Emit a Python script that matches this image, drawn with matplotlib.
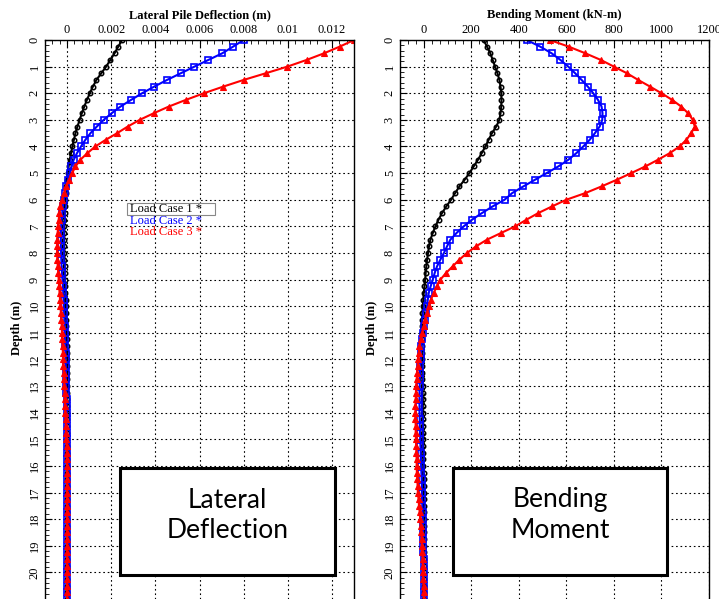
import numpy as np
import matplotlib
matplotlib.use("Agg")
import matplotlib.pyplot as plt
from matplotlib.patches import Rectangle
from matplotlib.ticker import AutoMinorLocator

# ---------------- data ----------------
depth_step = 0.25
depth = np.arange(0, 21.0 + 1e-9, depth_step)  # pile nodes (m)

# Lateral deflection (mm), one value every 0.25 m from 0 to 21 m
defl_case1_mm = [
    2.49, 2.32, 2.15, 1.96,
    1.77, 1.55, 1.33, 1.17,
    1.03, 0.90, 0.78, 0.67,
    0.57, 0.47, 0.38, 0.31,
    0.24, 0.18, 0.12, 0.07,
    0.03, 0.00, -0.03, -0.06,
    -0.08, -0.10, -0.11, -0.12,
    -0.12, -0.13, -0.13, -0.13,
    -0.12, -0.12, -0.11, -0.11,
    -0.10, -0.09, -0.08, -0.07,
    -0.06, -0.05, -0.04, -0.03,
    -0.02, -0.01, -0.01, 0.00,
    0.01, 0.01, 0.01, 0.01,
    0.01, 0.01, 0.01, 0.01,
    0.01, 0.01, 0.00, 0.00,
    0.00, 0.00, 0.00, 0.00,
    0.00, 0.00, 0.00, 0.00,
    0.00, 0.00, 0.00, 0.00,
    0.00, 0.00, 0.00, 0.00,
    0.00, 0.00, 0.00, 0.00,
    0.00, 0.00, 0.00, 0.00,
    0.00,
]
defl_case2_mm = [
    8.00, 7.52, 7.03, 6.40,
    5.77, 5.15, 4.53, 3.95,
    3.40, 2.90, 2.42, 2.02,
    1.66, 1.35, 1.06, 0.83,
    0.63, 0.45, 0.30, 0.20,
    0.12, 0.04, -0.03, -0.09,
    -0.15, -0.19, -0.22, -0.25,
    -0.27, -0.28, -0.28, -0.28,
    -0.27, -0.26, -0.25, -0.23,
    -0.21, -0.19, -0.17, -0.16,
    -0.15, -0.13, -0.12, -0.11,
    -0.10, -0.09, -0.08, -0.07,
    -0.07, -0.06, -0.05, -0.05,
    -0.04, -0.03, -0.02, -0.02,
    -0.01, -0.01, 0.00, 0.00,
    0.00, 0.00, 0.00, 0.00,
    0.00, 0.00, 0.00, 0.00,
    0.00, 0.00, 0.00, 0.00,
    0.00, 0.00, 0.00, 0.00,
    0.00, 0.00, 0.00, 0.00,
    0.00, 0.00, 0.00, 0.00,
    0.00,
]
defl_case3_mm = [
    13.00, 12.35, 11.64, 10.85,
    9.98, 9.00, 8.00, 7.08,
    6.20, 5.38, 4.61, 3.93,
    3.29, 2.75, 2.27, 1.75,
    1.28, 0.92, 0.60, 0.38,
    0.23, 0.09, -0.03, -0.13,
    -0.23, -0.30, -0.35, -0.38,
    -0.40, -0.43, -0.45, -0.45,
    -0.45, -0.44, -0.42, -0.40,
    -0.38, -0.36, -0.34, -0.32,
    -0.30, -0.28, -0.26, -0.24,
    -0.23, -0.22, -0.20, -0.19,
    -0.18, -0.17, -0.15, -0.14,
    -0.12, -0.11, -0.10, -0.09,
    -0.08, -0.07, -0.05, -0.04,
    -0.03, -0.02, -0.01, -0.01,
    0.00, 0.00, 0.00, 0.00,
    0.00, 0.00, 0.00, 0.00,
    0.00, 0.00, 0.00, 0.00,
    0.00, 0.00, 0.00, 0.00,
    0.00, 0.00, 0.00, 0.00,
    0.00,
]

# Bending moment (kN-m), one value every 0.25 m from 0 to 21 m
moment_case1 = [
    252, 266, 280, 290,
    300, 310, 318, 323,
    326, 327, 326, 323,
    318, 305, 287, 273,
    259, 244, 228, 210,
    192, 172, 150, 132,
    115, 95, 77, 62,
    49, 38, 28, 22,
    18, 14, 11, 8,
    6, 3, 0, -2,
    -4, -6, -7, -8,
    -9, -9, -9, -8,
    -7, -7, -6, -6,
    -5, -5, -4, -4,
    -4, -3, -3, -3,
    -3, -2, -2, -2,
    -2, -1, -1, -1,
    -1, -1, 0, 0,
    0, 0, 0, 0,
    0, 0, 0, 0,
    0, 0, 0, 0,
    0,
]
moment_case2 = [
    433, 490, 538, 575,
    608, 637, 664, 690,
    713, 733, 748, 752,
    751, 740, 720, 698,
    671, 642, 608, 566,
    517, 468, 419, 372,
    340, 290, 245, 203,
    168, 138, 112, 98,
    85, 70, 56, 46,
    38, 29, 21, 17,
    14, 10, 6, 1,
    -4, -7, -10, -12,
    -13, -15, -16, -17,
    -17, -18, -18, -18,
    -18, -17, -17, -16,
    -15, -14, -13, -12,
    -11, -10, -9, -8,
    -8, -7, -6, -5,
    -4, -4, -3, -3,
    -2, -2, -1, -1,
    0, 0, 0, 0,
    0,
]
moment_case3 = [
    530, 610, 680, 745,
    800, 855, 902, 952,
    1000, 1045, 1083, 1112,
    1132, 1140, 1125, 1105,
    1076, 1035, 985, 932,
    873, 812, 748, 680,
    600, 540, 482, 432,
    385, 325, 266, 220,
    182, 150, 122, 94,
    70, 55, 42, 30,
    21, 14, 7, 0,
    -7, -13, -18, -21,
    -24, -26, -28, -30,
    -32, -33, -34, -35,
    -35, -35, -34, -34,
    -33, -32, -31, -30,
    -30, -29, -27, -26,
    -25, -22, -20, -17,
    -15, -13, -11, -9,
    -8, -6, -5, -4,
    -3, -2, -1, -1,
    0,
]

defl_ticks = [0, 0.002, 0.004, 0.006, 0.008, 0.01, 0.012]
defl_ticklabels = ["0", "0.002", "0.004", "0.006", "0.008", "0.01", "0.012"]
moment_ticks = [0, 200, 400, 600, 800, 1000, 1200]
moment_ticklabels = ["0", "200", "400", "600", "800", "1000", "1200"]
depth_ticks = list(range(0, 21))

legend_labels = ["Load Case 1 *", "Load Case 2 *", "Load Case 3 *"]
colors = ["black", "blue", "red"]

# ---------------- figure ----------------
W, H = 719, 599
fig = plt.figure(figsize=(W / 100, H / 100), dpi=100)
SERIF = ["Liberation Serif", "DejaVu Serif"]


def rect(l, r, t, b):
    return [l / W, 1 - b / H, (r - l) / W, (b - t) / H]


ax1 = fig.add_axes(rect(45, 354, 40, 599))
ax2 = fig.add_axes(rect(400, 709, 40, 599))

styles = [
    dict(marker="o", ms=3.2, mfc="none", mec="black", mew=1.1),
    dict(marker="s", ms=4.0, mfc="none", mec="blue", mew=1.2),
    dict(marker="^", ms=4.5, mfc="red", mec="red", mew=0.8),
]

defl_series = [np.array(defl_case1_mm) / 1000.0,
               np.array(defl_case2_mm) / 1000.0,
               np.array(defl_case3_mm) / 1000.0]
moment_series = [moment_case1, moment_case2, moment_case3]

for vals, c, st in zip(defl_series, colors, styles):
    ax1.plot(vals, depth, color=c, lw=1.5, **st)
for vals, c, st in zip(moment_series, colors, styles):
    ax2.plot(vals, depth, color=c, lw=1.5, **st)


def style_axis(ax, xlim, xticks, xticklabels, title, minor_n):
    ax.set_xlim(*xlim)
    ax.set_ylim(21, 0)
    ax.xaxis.tick_top()
    ax.xaxis.set_label_position("top")
    ax.set_xticks(xticks)
    ax.set_xticklabels(xticklabels, fontfamily=SERIF, fontsize=9)
    ax.set_yticks(depth_ticks)
    ax.set_yticklabels([str(d) for d in depth_ticks], fontfamily=SERIF,
                       fontsize=9, rotation=90, va="center")
    ax.xaxis.set_minor_locator(AutoMinorLocator(minor_n))
    ax.yaxis.set_minor_locator(AutoMinorLocator(5))
    ax.tick_params(which="both", direction="in", top=True, left=True,
                   right=False, bottom=False, colors="black", pad=3)
    ax.tick_params(which="major", length=5, width=0.8)
    ax.tick_params(which="minor", length=3, width=0.6)
    ax.set_xlabel(title, fontfamily=SERIF, fontsize=9, fontweight="bold",
                  labelpad=4)
    ax.set_ylabel("Depth (m)", fontfamily=SERIF, fontsize=9,
                  fontweight="bold")
    ax.yaxis.set_label_coords(-0.071, 0.485)
    ax.grid(True, which="major", color="black", lw=0.8,
            linestyle=(0, (1.5, 2.5)))
    ax.spines["bottom"].set_visible(False)
    for s in ("left", "top", "right"):
        ax.spines[s].set_linewidth(1.0)


style_axis(ax1, (-0.001, 0.013), defl_ticks, defl_ticklabels,
           "Lateral Pile Deflection (m)", 6)
style_axis(ax2, (-100, 1200), moment_ticks, moment_ticklabels,
           "Bending Moment (kN-m)", 6)

# legend-like labels in the deflection panel
leg_y = [209, 221, 232]
for lbl, c, y in zip(legend_labels, colors, leg_y):
    fig.text(130 / W, 1 - y / H, lbl, color=c, fontfamily=SERIF,
             fontsize=9, ha="left", va="center")
fig.add_artist(Rectangle((127 / W, 1 - 215 / H), (215 - 127) / W, 12 / H,
                         transform=fig.transFigure, fill=False,
                         edgecolor="#888888", lw=0.8, zorder=6))

# annotation boxes
boxes = [((120, 335, 468, 575), "Lateral\nDeflection"),
         ((453, 667, 468, 575), "Bending\nMoment")]
for (l, r, t, b), txt in boxes:
    fig.add_artist(Rectangle((l / W, 1 - b / H), (r - l) / W, (b - t) / H,
                             transform=fig.transFigure, facecolor="white",
                             edgecolor="black", lw=2.2, zorder=5))
    fig.text((l + r) / 2 / W, 1 - ((t + b) / 2 - 6) / H, txt, ha="center",
             va="center", fontfamily=["Lato", "DejaVu Sans"], fontsize=19,
             linespacing=1.3, zorder=7)

fig.savefig("out.png", dpi=100)
